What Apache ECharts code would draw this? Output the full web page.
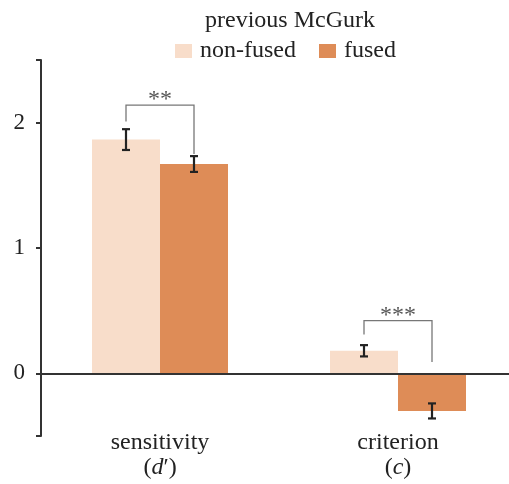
<!DOCTYPE html>
<html><head><meta charset="utf-8">
<script src="https://cdn.jsdelivr.net/npm/echarts@6/dist/echarts.min.js"></script>
<style>html,body{margin:0;padding:0;background:#fff}#c{width:509px;height:484px}</style>
</head><body><div id="c"></div>
<script>
var categories = ['sensitivity', 'criterion'];
var seriesNames = ['non-fused', 'fused'];
var nonFused = [1.865, 0.18];
var fused = [1.67, -0.30];
var nonFusedErr = [0.083, 0.045];
var fusedErr = [0.063, 0.06];
var bracketTop = [2.14, 0.42];
var bracketLeftEnd = [2.01, 0.31];
var bracketRightEnd = [1.75, 0.09];
var stars = ['**', '***'];
var yTickValues = [-0.5, 0, 1, 2, 2.5];
var yLabelValues = [0, 1, 2];

var BW = 68;
var colors = ['#F8DDCA', '#DE8C57'];
var serif = 'Liberation Serif';

var chart = echarts.init(document.getElementById('c'));

function errSeries(vals, errs, side) {
  return {
    type: 'custom', z: 5,
    data: vals.map(function (v, i) { return [i, v, errs[i]]; }),
    renderItem: function (params, api) {
      var i = api.value(0), v = api.value(1), e = api.value(2);
      var top = api.coord([i, v + e]);
      var bot = api.coord([i, v - e]);
      var x = top[0] + side * BW / 2;
      var cap = 4;
      var st = { stroke: '#222', lineWidth: 2.2 };
      return { type: 'group', children: [
        { type: 'line', shape: { x1: x, y1: top[1], x2: x, y2: bot[1] }, style: st },
        { type: 'line', shape: { x1: x - cap, y1: top[1], x2: x + cap, y2: top[1] }, style: st },
        { type: 'line', shape: { x1: x - cap, y1: bot[1], x2: x + cap, y2: bot[1] }, style: st }
      ]};
    }
  };
}

var option = {
  animation: false,
  title: {
    text: 'previous McGurk', left: 285, top: 4, textAlign: 'center',
    textStyle: { fontFamily: serif, fontSize: 24, fontWeight: 'normal', color: '#222' }
  },
  legend: {
    data: seriesNames, left: 170, top: 34, itemWidth: 17, itemHeight: 14, itemGap: 23,
    icon: 'rect', textStyle: { fontFamily: serif, fontSize: 24, color: '#222', padding: [0, 0, 0, 3] }
  },
  grid: { left: 41, top: 60, width: 476, bottom: 48, outerBoundsMode: 'none', containLabel: false },
  xAxis: {
    type: 'category', data: categories,
    axisLine: { show: false }, axisTick: { show: false },
    axisLabel: {
      margin: -6, interval: 0,
      formatter: function (v) {
        return v === 'sensitivity' ? '{a|sensitivity}\n{a|(}{i|d}{a|′)}' : '{a|criterion}\n{a|(}{i|c}{a|)}';
      },
      rich: {
        a: { fontFamily: serif, fontSize: 24, color: '#222', lineHeight: 25 },
        i: { fontFamily: serif, fontSize: 24, color: '#222', fontStyle: 'italic', lineHeight: 25 }
      }
    }
  },
  yAxis: {
    type: 'value', min: -0.5, max: 2.5,
    axisLine: { show: true, lineStyle: { color: '#333', width: 2 } },
    axisTick: { show: true, length: 5, customValues: yTickValues, lineStyle: { color: '#333', width: 2 } },
    axisLabel: { customValues: yLabelValues, margin: 16, fontFamily: serif, fontSize: 23, color: '#222' },
    splitLine: { show: false }
  },
  series: [
    {
      name: seriesNames[0], type: 'bar', data: nonFused, barWidth: BW, barGap: '0%',
      itemStyle: { color: colors[0] },
      markLine: {
        silent: true, symbol: 'none', label: { show: false },
        lineStyle: { color: '#333', width: 2, type: 'solid' },
        data: [{ yAxis: 0 }]
      }
    },
    { name: seriesNames[1], type: 'bar', data: fused, barWidth: BW, itemStyle: { color: colors[1] } },
    errSeries(nonFused, nonFusedErr, -1),
    errSeries(fused, fusedErr, 1),
    {
      type: 'custom', z: 6,
      data: categories.map(function (c, i) { return [i, bracketTop[i], bracketLeftEnd[i], bracketRightEnd[i]]; }),
      renderItem: function (params, api) {
        var i = api.value(0);
        var t = api.coord([i, api.value(1)]);
        var l = api.coord([i, api.value(2)]);
        var r = api.coord([i, api.value(3)]);
        var xl = t[0] - BW / 2, xr = t[0] + BW / 2;
        return { type: 'group', children: [
          { type: 'polyline', shape: { points: [[xl, l[1]], [xl, t[1]], [xr, t[1]], [xr, r[1]]] },
            style: { stroke: '#777', lineWidth: 1.3, fill: null } },
          { type: 'text', x: t[0], y: t[1] - 5,
            style: { text: stars[params.dataIndex], fontFamily: serif, fontSize: 24, fill: '#555', align: 'center', verticalAlign: 'middle' } }
        ]};
      }
    }
  ]
};
chart.setOption(option);
</script>
</body></html>
